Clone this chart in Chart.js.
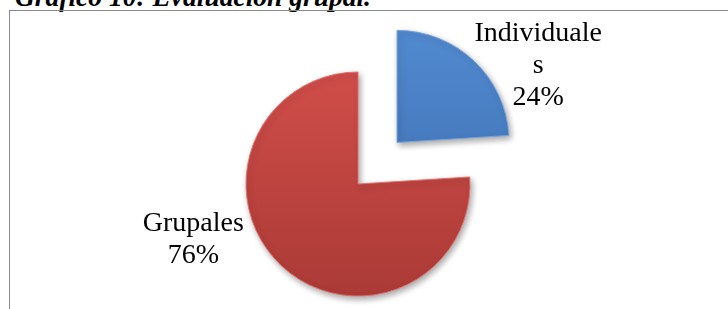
<!DOCTYPE html>
<html>
<head>
<meta charset="utf-8">
<script src="https://cdn.jsdelivr.net/npm/chart.js@4/dist/chart.umd.min.js"></script>
<style>
  body { margin: 0; background: #fff; width: 728px; height: 309px; overflow: hidden; position: relative; }
  #title { position: absolute; left: 15px; top: -17px; font: italic bold 27.5px/27.5px "Liberation Serif", serif; color: #000; white-space: nowrap; }
  #box { position: absolute; left: 9px; top: 10px; width: 760px; height: 340px; border: 1.5px solid #8a8a8a; box-sizing: border-box; }
  #chart { position: absolute; left: 0; top: 0; }
</style>
</head>
<body>
<div id="title">Gráfico 10: Evaluación grupal.</div>
<div id="box"></div>
<canvas id="chart" width="728" height="309"></canvas>
<script>
// datos del gráfico
const categorias = ['Individuales', 'Grupales'];
const valores = [24, 76];

// estilo de cada porción
const coloresArriba = ['#5690d6', '#d7514d'];
const coloresAbajo = ['#3a6aad', '#a93935'];
const desplazamientos = [228, 0]; // sólo la porción azul se separa
// posición de la etiqueta respecto al centro de su porción (en radios)
const etiquetaDx = [1.26, -1.47];
const etiquetaDy = [-0.69, 0.50];

function degradado(ctx) {
  const area = ctx.chart.chartArea;
  const i = ctx.dataIndex;
  if (!area) return coloresArriba[i];
  const g = ctx.chart.ctx.createLinearGradient(0, area.top - 30, 0, area.bottom);
  g.addColorStop(0, coloresArriba[i]);
  g.addColorStop(1, coloresAbajo[i]);
  return g;
}

// partir el texto cuando no cabe (como hace Excel)
function partirTexto(ctx, texto, maxAncho) {
  const lineas = [];
  let actual = '';
  for (const letra of texto) {
    if (ctx.measureText(actual + letra).width > maxAncho && actual) {
      lineas.push(actual);
      actual = letra;
    } else {
      actual += letra;
    }
  }
  lineas.push(actual);
  return lineas;
}

const sombra = {
  id: 'sombra',
  beforeDatasetDraw(chart) {
    const c = chart.ctx;
    c.save();
    c.shadowColor = 'rgba(0,0,0,0.35)';
    c.shadowBlur = 6;
    c.shadowOffsetX = 2;
    c.shadowOffsetY = 3;
  },
  afterDatasetDraw(chart) {
    chart.ctx.restore();
  }
};

const etiquetas = {
  id: 'etiquetas',
  afterDatasetsDraw(chart) {
    const c = chart.ctx;
    const meta = chart.getDatasetMeta(0);
    const total = valores.reduce((s, v) => s + v, 0);
    c.save();
    c.font = '28px "Liberation Serif", serif';
    c.fillStyle = '#000';
    c.textAlign = 'center';
    c.textBaseline = 'middle';
    meta.data.forEach((arc, i) => {
      const p = arc.getProps(['x', 'y', 'startAngle', 'endAngle', 'outerRadius']);
      const mitad = (p.startAngle + p.endAngle) / 2;
      const d = desplazamientos[i] / 4; // igual que ArcElement.draw
      const cx = p.x + Math.cos(mitad) * d;
      const cy = p.y + Math.sin(mitad) * d;
      const lineas = partirTexto(c, categorias[i], 132);
      lineas.push(Math.round(valores[i] / total * 100) + '%');
      const x = cx + etiquetaDx[i] * p.outerRadius;
      const y = cy + etiquetaDy[i] * p.outerRadius;
      const alto = 32;
      lineas.forEach((l, k) => {
        c.fillText(l, x, y + (k - (lineas.length - 1) / 2) * alto);
      });
    });
    c.restore();
  }
};

new Chart(document.getElementById('chart'), {
  type: 'pie',
  data: {
    labels: categorias,
    datasets: [{
      data: valores,
      backgroundColor: degradado,
      borderWidth: 1,
      borderColor: ['rgba(120,165,225,0.9)', 'rgba(228,110,105,0.9)'],
      offset: desplazamientos
    }]
  },
  options: {
    responsive: false,
    animation: false,
    radius: 112,
    layout: { padding: { top: 60, bottom: 1, left: 100, right: 112 } },
    plugins: { legend: { display: false }, tooltip: { enabled: false } },
    events: []
  },
  plugins: [sombra, etiquetas]
});
</script>
</body>
</html>
